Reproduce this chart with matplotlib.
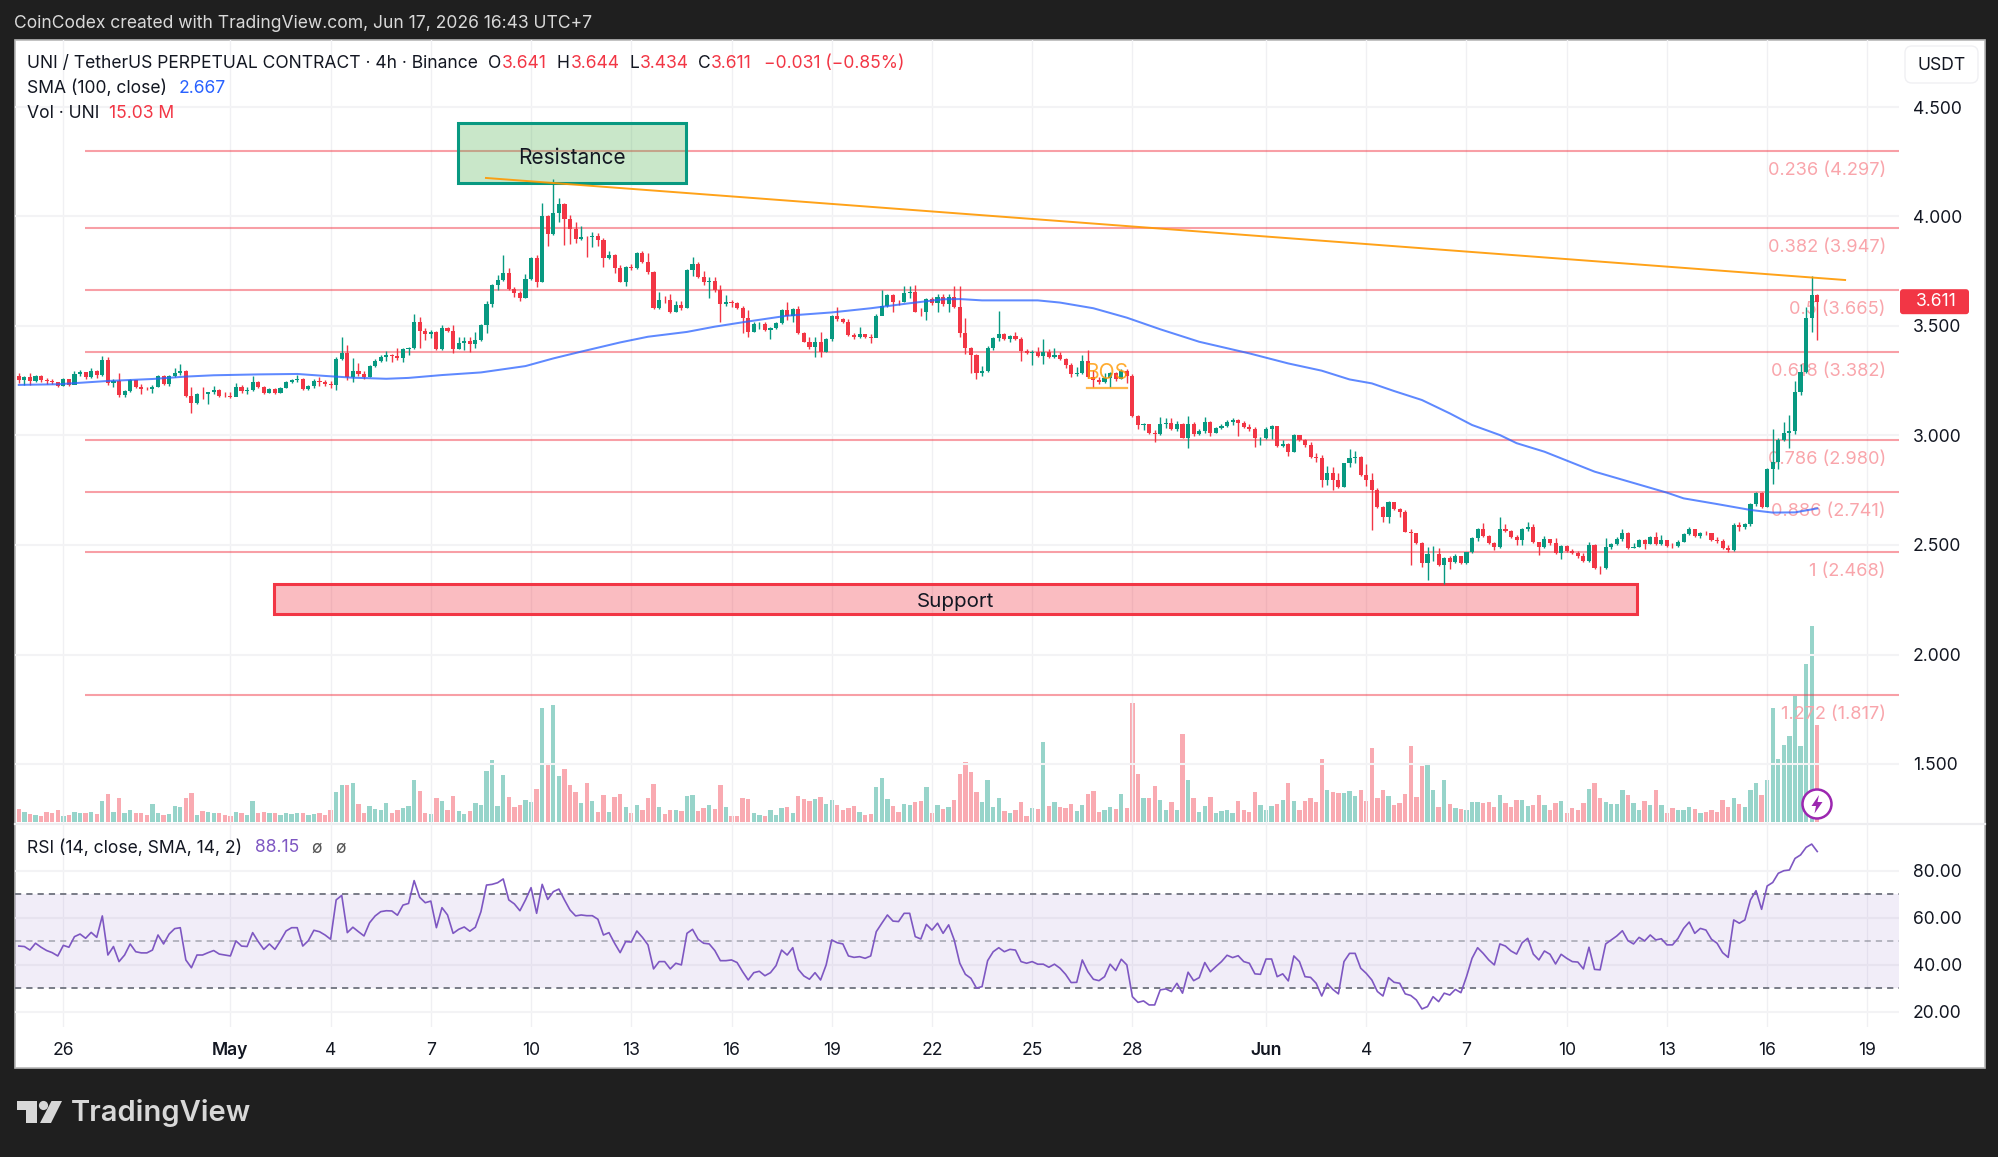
import numpy as np
import matplotlib
matplotlib.use("Agg")
import matplotlib.pyplot as plt
from matplotlib.patches import Rectangle, FancyBboxPatch, Polygon, Circle

plt.rcParams["font.family"] = ["Inter", "DejaVu Sans"]

# 4h candles, oldest first
closes = [
    3.253,3.269,3.249,3.272,3.253,3.249,3.243,3.228,3.258,3.231,
    3.281,3.288,3.269,3.294,3.276,3.345,3.238,3.250,3.185,3.205,
    3.253,3.220,3.211,3.211,3.223,3.272,3.235,3.272,3.287,3.296,
    3.180,3.147,3.189,3.189,3.197,3.208,3.180,3.180,3.174,3.223,
    3.205,3.208,3.244,3.223,3.196,3.214,3.196,3.218,3.243,3.253,
    3.258,3.211,3.226,3.250,3.246,3.235,3.231,3.349,3.375,3.266,
    3.296,3.279,3.266,3.317,3.342,3.360,3.369,3.363,3.354,3.395,
    3.400,3.517,3.479,3.462,3.474,3.395,3.492,3.477,3.396,3.421,
    3.433,3.418,3.436,3.505,3.600,3.687,3.710,3.740,3.667,3.649,
    3.629,3.715,3.809,3.702,4.002,3.920,4.017,4.057,3.989,3.944,
    3.896,3.908,3.906,3.912,3.891,3.809,3.823,3.763,3.702,3.768,
    3.763,3.832,3.794,3.745,3.582,3.619,3.619,3.565,3.594,3.584,
    3.756,3.782,3.725,3.702,3.705,3.664,3.599,3.608,3.604,3.581,
    3.535,3.474,3.508,3.509,3.482,3.492,3.515,3.573,3.547,3.578,
    3.466,3.428,3.403,3.428,3.383,3.441,3.546,3.530,3.520,3.459,
    3.451,3.463,3.451,3.444,3.547,3.593,3.642,3.611,3.608,3.649,
    3.657,3.565,3.562,3.622,3.604,3.634,3.599,3.634,3.588,3.467,
    3.398,3.368,3.284,3.295,3.401,3.444,3.462,3.441,3.453,3.441,
    3.386,3.375,3.383,3.363,3.383,3.357,3.368,3.349,3.322,3.281,
    3.287,3.342,3.266,3.253,3.246,3.261,3.284,3.256,3.295,3.272,
    3.091,3.048,3.051,3.010,3.007,3.053,3.059,3.028,3.053,2.990,
    3.053,3.005,3.021,3.063,3.010,3.033,3.043,3.063,3.071,3.059,
    3.040,3.030,2.987,2.990,3.028,3.043,2.954,2.961,2.926,3.000,
    2.979,2.957,2.903,2.896,2.797,2.830,2.797,2.766,2.873,2.896,
    2.903,2.820,2.797,2.751,2.672,2.626,2.695,2.664,2.652,2.561,
    2.553,2.511,2.419,2.457,2.459,2.409,2.439,2.424,2.450,2.419,
    2.466,2.530,2.573,2.541,2.511,2.489,2.571,2.564,2.538,2.523,
    2.571,2.584,2.515,2.489,2.526,2.508,2.465,2.497,2.474,2.465,
    2.450,2.428,2.500,2.396,2.393,2.489,2.504,2.526,2.553,2.488,
    2.492,2.523,2.504,2.535,2.504,2.523,2.495,2.494,2.515,2.550,
    2.573,2.541,2.556,2.553,2.523,2.520,2.488,2.477,2.593,2.581,
    2.594,2.687,2.739,2.675,2.847,2.881,2.979,3.013,3.022,3.197,
    3.289,3.536,3.641,3.611,
]
highs = [
    3.287,3.272,3.284,3.275,3.276,3.264,3.258,3.246,3.261,3.259,
    3.296,3.299,3.288,3.307,3.299,3.363,3.357,3.256,3.287,3.208,
    3.256,3.253,3.235,3.223,3.231,3.276,3.276,3.276,3.307,3.326,
    3.299,3.220,3.196,3.223,3.200,3.226,3.211,3.197,3.197,3.241,
    3.231,3.220,3.272,3.249,3.226,3.217,3.215,3.223,3.249,3.258,
    3.276,3.261,3.231,3.256,3.266,3.253,3.249,3.357,3.451,3.413,
    3.352,3.329,3.296,3.322,3.348,3.368,3.387,3.372,3.398,3.400,
    3.406,3.555,3.540,3.489,3.482,3.476,3.505,3.497,3.505,3.451,
    3.448,3.448,3.474,3.508,3.616,3.690,3.733,3.824,3.763,3.676,
    3.661,3.737,3.814,3.824,4.060,4.007,4.170,4.083,4.060,4.007,
    3.976,3.957,3.912,3.931,3.926,3.900,3.844,3.827,3.778,3.774,
    3.783,3.836,3.844,3.835,3.751,3.657,3.637,3.646,3.616,3.616,
    3.759,3.814,3.794,3.753,3.725,3.722,3.687,3.641,3.619,3.611,
    3.591,3.573,3.520,3.520,3.520,3.497,3.520,3.578,3.608,3.581,
    3.593,3.474,3.451,3.451,3.474,3.444,3.550,3.585,3.538,3.530,
    3.470,3.497,3.463,3.462,3.553,3.664,3.646,3.646,3.620,3.683,
    3.683,3.687,3.584,3.626,3.631,3.646,3.646,3.646,3.683,3.683,
    3.535,3.403,3.372,3.317,3.409,3.451,3.570,3.467,3.459,3.474,
    3.448,3.396,3.390,3.403,3.441,3.393,3.398,3.383,3.355,3.330,
    3.314,3.368,3.390,3.299,3.266,3.284,3.291,3.291,3.304,3.302,
    3.279,3.094,3.056,3.048,3.025,3.083,3.078,3.081,3.068,3.059,
    3.091,3.063,3.028,3.083,3.066,3.037,3.051,3.071,3.078,3.074,
    3.068,3.051,3.037,2.995,3.037,3.046,3.031,2.979,2.964,3.005,
    3.002,2.984,2.972,2.919,2.911,2.861,2.858,2.830,2.876,2.937,
    2.929,2.906,2.870,2.827,2.759,2.678,2.702,2.698,2.667,2.660,
    2.571,2.556,2.515,2.492,2.495,2.485,2.447,2.450,2.457,2.450,
    2.469,2.535,2.579,2.602,2.546,2.515,2.626,2.594,2.568,2.544,
    2.576,2.606,2.594,2.515,2.541,2.526,2.530,2.501,2.501,2.480,
    2.472,2.462,2.515,2.503,2.404,2.530,2.509,2.535,2.571,2.559,
    2.508,2.527,2.527,2.541,2.561,2.546,2.523,2.508,2.523,2.556,
    2.584,2.574,2.561,2.564,2.556,2.535,2.529,2.500,2.599,2.606,
    2.599,2.693,2.743,2.743,2.853,3.028,2.987,3.063,3.094,3.250,
    3.327,3.585,3.728,3.644,
]
lows = [
    3.241,3.231,3.231,3.246,3.246,3.235,3.235,3.223,3.226,3.226,
    3.243,3.272,3.259,3.261,3.261,3.272,3.231,3.220,3.174,3.177,
    3.197,3.215,3.189,3.208,3.193,3.220,3.231,3.226,3.266,3.276,
    3.177,3.104,3.144,3.165,3.144,3.189,3.174,3.174,3.170,3.180,
    3.193,3.189,3.202,3.218,3.189,3.193,3.189,3.196,3.215,3.238,
    3.246,3.208,3.208,3.215,3.226,3.226,3.215,3.208,3.345,3.253,
    3.246,3.272,3.259,3.266,3.311,3.334,3.342,3.337,3.345,3.337,
    3.368,3.395,3.398,3.436,3.444,3.392,3.390,3.471,3.378,3.393,
    3.390,3.383,3.398,3.433,3.466,3.588,3.664,3.707,3.664,3.631,
    3.616,3.626,3.710,3.676,3.699,3.865,3.915,3.976,3.868,3.874,
    3.877,3.893,3.814,3.862,3.865,3.768,3.806,3.740,3.699,3.683,
    3.756,3.759,3.786,3.737,3.579,3.579,3.603,3.558,3.562,3.573,
    3.581,3.728,3.718,3.687,3.626,3.657,3.520,3.591,3.588,3.576,
    3.466,3.451,3.471,3.485,3.477,3.439,3.485,3.509,3.527,3.520,
    3.463,3.425,3.397,3.357,3.357,3.380,3.433,3.524,3.512,3.454,
    3.439,3.444,3.445,3.424,3.454,3.550,3.588,3.565,3.596,3.611,
    3.626,3.562,3.547,3.527,3.597,3.565,3.591,3.565,3.584,3.451,
    3.372,3.284,3.258,3.272,3.291,3.390,3.433,3.436,3.428,3.436,
    3.342,3.371,3.322,3.360,3.325,3.354,3.352,3.345,3.307,3.266,
    3.272,3.281,3.261,3.220,3.235,3.241,3.220,3.250,3.256,3.238,
    3.086,3.028,3.025,3.007,2.972,3.002,3.033,3.025,3.022,2.987,
    2.944,2.999,3.002,3.013,2.998,3.010,3.028,3.040,3.046,2.998,
    3.036,3.022,2.946,2.957,2.982,2.985,2.949,2.949,2.906,2.923,
    2.976,2.949,2.899,2.880,2.766,2.774,2.751,2.762,2.763,2.858,
    2.876,2.815,2.769,2.568,2.669,2.606,2.602,2.660,2.626,2.558,
    2.409,2.505,2.401,2.340,2.428,2.404,2.320,2.389,2.416,2.413,
    2.413,2.462,2.518,2.538,2.505,2.477,2.485,2.559,2.532,2.500,
    2.500,2.565,2.511,2.454,2.485,2.500,2.459,2.436,2.469,2.459,
    2.439,2.422,2.424,2.392,2.366,2.390,2.482,2.500,2.520,2.480,
    2.485,2.489,2.480,2.504,2.500,2.501,2.489,2.488,2.489,2.512,
    2.546,2.535,2.532,2.546,2.518,2.511,2.482,2.468,2.474,2.564,
    2.574,2.588,2.678,2.667,2.672,2.779,2.845,2.975,2.941,3.007,
    3.185,3.285,3.474,3.434,
]
first_open = 3.270

# volume in millions of UNI
volumes = [
    2.02,1.60,1.29,1.14,.88,1.60,1.45,1.81,.88,1.14,1.60,1.34,1.40,1.60,1.29,3.31,4.34,1.60,3.67,1.45,
    1.91,1.45,1.34,1.14,2.79,1.34,1.14,1.29,2.53,2.27,3.67,4.50,1.14,1.76,1.60,1.45,1.45,1.14,.98,1.60,
    1.34,1.14,3.31,1.45,1.60,1.34,1.34,1.14,1.34,1.29,1.34,1.45,1.14,1.29,1.40,1.14,1.91,4.70,5.79,5.68,
    6.05,2.74,1.34,2.53,2.02,1.91,2.95,1.45,1.91,2.22,2.53,6.56,4.75,1.45,1.24,3.67,3.20,1.81,4.03,1.76,
    1.24,1.76,2.95,2.69,7.91,9.66,2.53,7.34,3.88,2.27,2.69,3.41,3.15,5.06,17.73,9.20,18.09,7.18,8.22,5.79,
    4.65,2.95,6.05,3.31,1.60,4.13,1.60,3.88,4.34,2.38,1.45,2.69,1.81,3.77,5.84,2.27,1.29,1.91,1.81,1.76,
    4.03,4.24,1.76,2.17,2.64,2.07,5.68,2.38,.88,.98,3.77,3.57,1.45,1.14,.88,1.81,1.14,2.17,2.38,1.45,
    4.03,3.57,3.20,3.57,3.88,2.84,3.41,2.64,1.81,2.22,2.53,1.60,1.14,1.29,5.37,6.87,3.57,2.53,1.60,2.79,
    2.64,3.10,3.20,5.37,1.34,2.64,2.07,2.38,3.41,7.44,9.30,7.80,4.65,3.10,6.56,2.38,3.77,
    1.76,1.45,1.91,3.15,.98,2.17,2.07,12.35,2.53,3.15,2.38,2.22,2.84,1.76,2.64,4.34,4.81,1.60,1.91,2.38,
    2.07,4.34,2.22,18.50,7.44,3.77,3.77,5.53,3.41,1.86,3.10,1.81,13.70,6.56,3.77,1.60,2.53,3.88,1.34,1.71,
    1.81,1.45,3.20,1.91,1.60,4.60,2.64,1.86,2.53,2.79,3.41,6.05,3.31,1.81,3.31,3.67,3.10,9.77,5.01,4.60,
    4.44,4.44,4.75,4.03,4.91,3.31,11.52,3.67,5.01,4.03,2.64,2.95,4.34,11.73,3.88,8.68,9.04,4.91,2.27,6.56,
    2.84,2.17,2.07,1.81,3.10,3.10,2.95,3.10,2.38,4.24,2.95,2.27,3.41,3.41,2.53,2.64,4.13,2.64,1.81,2.95,
    3.31,1.45,2.17,1.86,2.95,5.17,6.05,3.67,3.10,2.84,2.84,4.91,4.24,2.95,1.91,3.20,2.64,5.01,2.64,1.45,
    2.17,1.86,1.91,2.27,2.02,1.34,1.60,1.91,1.60,3.41,2.38,3.77,2.84,2.38,5.01,6.05,
    4.24,6.46,17.67,9.77,11.99,13.39,19.59,11.83,24.50,30.44,15.03,
]

rsi = [
    48.0,47.8,46.3,49.2,47.5,46.1,45.2,43.8,48.3,47.5,52.0,53.1,51.3,53.8,51.7,60.8,44.2,47.8,41.4,44.2,
    48.9,45.6,45.1,45.1,46.3,52.7,48.9,53.1,55.4,55.8,42.1,38.8,44.2,44.2,45.2,46.1,44.6,44.2,43.8,50.2,
    48.0,47.8,53.7,49.9,46.6,48.9,46.6,50.3,54.4,55.8,55.8,48.0,50.3,54.7,54.1,52.7,50.9,67.6,69.5,53.7,
    56.0,54.1,52.3,57.9,60.8,62.6,63.0,62.9,61.1,65.4,66.1,75.8,68.7,66.4,67.1,55.8,64.3,61.2,53.4,55.1,
    56.1,54.3,56.0,62.6,73.9,74.2,74.9,76.5,67.6,65.9,63.0,67.6,72.8,61.9,74.2,67.8,71.1,72.2,67.6,63.3,
    60.8,61.2,60.9,60.9,59.4,52.7,53.7,49.2,45.2,49.9,49.7,54.4,51.7,48.5,38.3,41.4,41.4,38.3,40.7,40.0,
    53.4,55.1,50.9,49.2,48.9,46.1,41.8,41.8,42.1,41.0,37.1,33.6,36.7,37.3,35.4,36.7,39.7,46.3,44.2,47.3,
    38.1,35.3,33.9,36.7,33.6,40.0,50.6,49.4,48.9,43.8,43.2,43.5,42.8,43.8,54.1,57.7,61.2,58.6,58.4,61.9,
    61.9,52.0,51.0,57.2,54.8,57.7,53.4,57.0,50.6,40.7,36.0,34.3,30.1,30.8,41.8,45.6,47.3,
    45.6,46.6,46.3,41.4,40.7,41.4,40.3,40.3,39.0,40.3,38.6,36.0,32.5,32.6,42.1,37.1,33.9,33.3,35.0,40.3,
    37.6,42.4,40.0,26.5,24.1,24.7,23.0,23.0,29.4,29.8,28.7,32.2,28.0,36.9,33.3,34.6,41.0,37.1,39.3,41.4,
    44.1,43.1,43.9,41.4,40.7,36.2,36.0,42.5,42.5,35.0,36.2,33.2,43.8,41.4,35.0,34.7,32.2,26.8,32.2,29.6,
    27.7,41.4,44.9,44.9,38.6,36.4,33.6,28.7,26.8,34.6,32.6,32.2,27.7,27.0,25.1,21.3,22.3,26.5,24.4,28.0,
    27.2,29.6,28.2,35.0,42.8,47.3,44.9,42.1,40.0,48.9,48.0,45.9,44.6,49.4,51.3,44.6,42.1,45.9,44.5,40.4,
    44.5,42.8,41.4,41.2,38.3,47.5,38.1,37.9,48.9,50.6,52.3,54.5,50.3,48.9,51.7,50.2,52.7,50.6,51.1,48.5,
    48.5,51.3,55.5,58.2,53.4,55.5,54.8,50.9,49.2,45.2,43.2,59.1,57.7,59.1,67.6,71.5,63.6,73.5,75.0,78.9,
    80.0,80.3,85.2,86.7,89.9,91.3,88.15,
]

# 100-period SMA, read at these bar numbers
sma_bars = [0, 7, 16, 24, 30, 35, 43, 50, 55, 60, 66, 70, 76, 83, 91, 96, 101, 108, 113, 120, 125, 130,
            138, 146, 153, 160, 166, 169, 173, 183, 187, 193, 199, 205, 212, 221, 228, 234, 239, 243,
            247, 252, 257, 261, 266, 269, 274, 283, 296, 299, 305, 311, 315, 319, 323]
sma_vals = [3.231, 3.234, 3.249, 3.258, 3.269, 3.275, 3.279, 3.281, 3.272, 3.264, 3.259, 3.263, 3.276,
            3.288, 3.317, 3.352, 3.383, 3.425, 3.451, 3.473, 3.497, 3.517, 3.547, 3.562, 3.581, 3.604,
            3.622, 3.623, 3.617, 3.617, 3.607, 3.581, 3.538, 3.485, 3.428, 3.375, 3.329, 3.296, 3.256,
            3.238, 3.203, 3.162, 3.101, 3.048, 3.002, 2.965, 2.926, 2.835, 2.739, 2.713, 2.687, 2.660,
            2.648, 2.649, 2.667]

fib_ratios = ["0.236", "0.382", "0.5", "0.618", "0.786", "0.886", "1", "1.272"]
fib_prices = [4.297, 3.947, 3.665, 3.382, 2.980, 2.741, 2.468, 1.817]

price_ticks = [1.5, 2.0, 2.5, 3.0, 3.5, 4.0, 4.5]
rsi_ticks = [20, 40, 60, 80]
date_bars = [8, 38, 56, 74, 92, 110, 128, 146, 164, 182, 200, 224, 242, 260, 278, 296, 314, 332]
date_labels = ["26", "May", "4", "7", "10", "13", "16", "19", "22", "25", "28", "Jun", "4", "7", "10", "13", "16", "19"]

W, H = 1999, 1157
BAR_PX = 5.568
BAR0_PX = 18.8
GREEN = "#089981"
RED = "#f23645"
TEXT = "#131722"
GRID = "#f3f3f5"
FS = 12.6
LEGEND_FS = 12.6

fig = plt.figure(figsize=(W / 100, H / 100), dpi=100, facecolor="#1f1f1f")


def pane(left, top, right, bottom):
    return fig.add_axes([left / W, 1 - bottom / H, (right - left) / W, (bottom - top) / H])


def pixel_layer(zorder):
    layer = fig.add_axes([0, 0, 1, 1], zorder=zorder)
    layer.set_xlim(0, W)
    layer.set_ylim(H, 0)
    layer.axis("off")
    return layer


back = pixel_layer(-1)
back.add_patch(Rectangle((15, 40), 1970, 1028, fc="white", ec="#b8b8b8", lw=1.2))
back.plot([15, 1985], [823.5, 823.5], color="#ededf0", lw=1.6)

x = np.arange(len(closes))
closes_a = np.array(closes)
opens = np.r_[first_open, closes_a[:-1]]
up = closes_a > opens
candle_colors = np.where(up, GREEN, RED)
xlim = ((15 - BAR0_PX) / BAR_PX, (1899 - BAR0_PX) / BAR_PX)

# volume sits under the price pane, same frame
ax_vol = pane(15, 40, 1899, 823)
ax_vol.patch.set_alpha(0)
ax_vol.bar(x, volumes, width=0.78, color=candle_colors, alpha=0.42, lw=0)
ax_vol.set_xlim(xlim)
ax_vol.set_ylim(-0.15, 783 / 6.45)
ax_vol.axis("off")

ax = pane(15, 40, 1899, 823)
ax.patch.set_alpha(0)
ax.set_xlim(xlim)
ax.set_ylim(4.5 - (823 - 107) / 219, 4.5 + (107 - 40) / 219)
for s in ax.spines.values():
    s.set_visible(False)
ax.yaxis.tick_right()
ax.set_yticks(price_ticks)
ax.set_yticklabels([f"{t:.3f}" for t in price_ticks], fontsize=FS, color=TEXT)
ax.set_xticks(date_bars)
ax.tick_params(axis="x", length=0, labelbottom=False)
ax.tick_params(axis="y", length=0, pad=10)
ax.grid(axis="y", color=GRID, lw=1.5, zorder=0)
ax.grid(axis="x", color="#f0f0f3", lw=1.0, zorder=0)
ax.set_axisbelow(True)

# fib levels and their labels
for ratio, level in zip(fib_ratios, fib_prices):
    ax.hlines(level, 11.9, xlim[1], color=RED, alpha=0.48, lw=1.5, zorder=1)
    ax.annotate(f"{ratio} ({level:.3f})", xy=(335.3, level), xytext=(0, -14), textcoords="offset points",
                ha="right", va="center", fontsize=13.1, color="#f9a5ab", zorder=1.5)

# zones behind the trend line
ax.add_patch(Rectangle((78.9, 4.153), 119.8 - 78.9, 4.427 - 4.153, fc=(0.30, 0.69, 0.31, 0.3), ec=GREEN, lw=2.2, zorder=2))
ax.text(99.3, 4.269, "Resistance", ha="center", va="center", fontsize=15, color=TEXT, zorder=2.5)
ax.add_patch(Rectangle((45.8, 2.186), 290.7 - 45.8, 2.322 - 2.186, fc=(0.95, 0.21, 0.27, 0.33), ec=RED, lw=2.2, zorder=2))
ax.text(168.3, 2.238, "Support", ha="center", va="center", fontsize=14.8, color=TEXT, zorder=2.5)

ax.vlines(x, lows, highs, color=candle_colors, lw=1.0, zorder=3)
ax.bar(x, closes_a - opens, bottom=opens, width=0.74, color=candle_colors, lw=0, zorder=3.2)

ax.plot(sma_bars, sma_vals, color="#2962ff", alpha=0.75, lw=1.45, zorder=3.5)
ax.plot([83.9, 328], [4.176, 3.71], color="#ff9800", alpha=0.9, lw=1.4, zorder=4)

# BOS marker
ax.plot([191.8, 199], [3.218, 3.218], color="#ff9800", alpha=0.7, lw=1.6, zorder=4)
ax.text(195.4, 3.285, "BOS", ha="center", va="center", fontsize=15, color="#ff9800", alpha=0.8, zorder=4)

# RSI pane
ax_rsi = pane(15, 823, 1899, 1027)
ax_rsi.patch.set_alpha(0)
ax_rsi.set_xlim(xlim)
ax_rsi.set_ylim(80 - (1027 - 870.7) / 2.355, 80 + (870.7 - 823) / 2.355)
for s in ax_rsi.spines.values():
    s.set_visible(False)
ax_rsi.yaxis.tick_right()
ax_rsi.set_yticks(rsi_ticks)
ax_rsi.set_yticklabels([f"{t:.2f}" for t in rsi_ticks], fontsize=FS, color=TEXT)
ax_rsi.set_xticks(date_bars)
ax_rsi.set_xticklabels(date_labels, fontsize=FS, color=TEXT)
for lbl, name in zip(ax_rsi.get_xticklabels(), date_labels):
    if name in ("May", "Jun"):
        lbl.set_fontweight("semibold")
ax_rsi.tick_params(axis="x", length=0, pad=11)
ax_rsi.tick_params(axis="y", length=0, pad=10)
ax_rsi.grid(axis="y", color=GRID, lw=1.5)
ax_rsi.grid(axis="x", color="#f0f0f3", lw=1.0)
ax_rsi.set_axisbelow(True)
ax_rsi.axhspan(30, 70, color="#7e57c2", alpha=0.1, lw=0)
for level, a in [(70, 1.0), (50, 0.5), (30, 1.0)]:
    ax_rsi.axhline(level, color="#787b86", alpha=a, lw=1.4, dashes=(3.2, 2.6))
ax_rsi.plot(x, rsi, color="#7e57c2", lw=1.2)

# header, legends, footer
front = pixel_layer(5)


def label(px, py, s, color=TEXT, size=LEGEND_FS, **kw):
    front.text(px, py, s, color=color, fontsize=size, va="center", **kw)


label(14, 23, "CoinCodex created with TradingView.com, Jun 17, 2026 16:43 UTC+7", color="#d9d9d9")
label(27, 63, "UNI / TetherUS PERPETUAL CONTRACT · 4h · Binance")
for lx, s, col in [(488, "O", TEXT), (502, "3.641", RED), (557, "H", TEXT), (571, "3.644", RED),
                   (629.5, "L", TEXT), (640, "3.434", RED), (698, "C", TEXT), (711, "3.611", RED),
                   (764, "−0.031 (−0.85%)", RED)]:
    label(lx, 63, s, color=col)
label(27, 88.5, "SMA (100, close)")
label(178.5, 88.5, "2.667", color="#2962ff")
label(27, 114, "Vol · UNI")
label(109, 114, "15.03 M", color=RED)
label(27, 848, "RSI (14, close, SMA, 14, 2)")
label(255, 848, "88.15", color="#7e57c2")
label(311, 848, "ø", color="#555")
label(335, 848, "ø", color="#555")

# currency button and last price tag
front.add_patch(FancyBboxPatch((1908, 49), 67, 31, boxstyle="round,pad=3,rounding_size=7", fc="white", ec="#f0f0f3", lw=1))
front.text(1942, 65, "USDT", ha="center", va="center", fontsize=FS, color=TEXT)
last_py = 107 + (4.5 - closes[-1]) * 219
front.add_patch(FancyBboxPatch((1901, last_py - 11.5), 67, 23, boxstyle="round,pad=1,rounding_size=3", fc=RED, ec="none"))
front.text(1936, last_py, f"{closes[-1]:.3f}", ha="center", va="center", fontsize=FS, color="white")

# alert bolt
front.add_patch(Circle((1817, 804), 14.5, fc="white", ec="#9c27b0", lw=1.8))
front.add_patch(Polygon([(1819, 795), (1811.5, 806), (1816, 806), (1814.5, 813.5), (1822.5, 802), (1817.5, 802)], fc="#9c27b0", ec="none"))

# footer logo
logo = "#d8d8d8"
front.add_patch(Polygon([(17, 1101), (37, 1101), (37, 1123), (26.5, 1123), (26.5, 1110), (17, 1110)], fc=logo, ec="none"))
front.add_patch(Circle((43.5, 1105.5), 4.6, fc=logo, ec="none"))
front.add_patch(Polygon([(51.5, 1101), (62, 1101), (51, 1123), (40, 1123)], fc=logo, ec="none"))
front.text(71, 1113, "TradingView", color=logo, fontsize=21, fontweight="semibold", va="center")

fig.savefig("out.png", dpi=100, facecolor=fig.get_facecolor())
